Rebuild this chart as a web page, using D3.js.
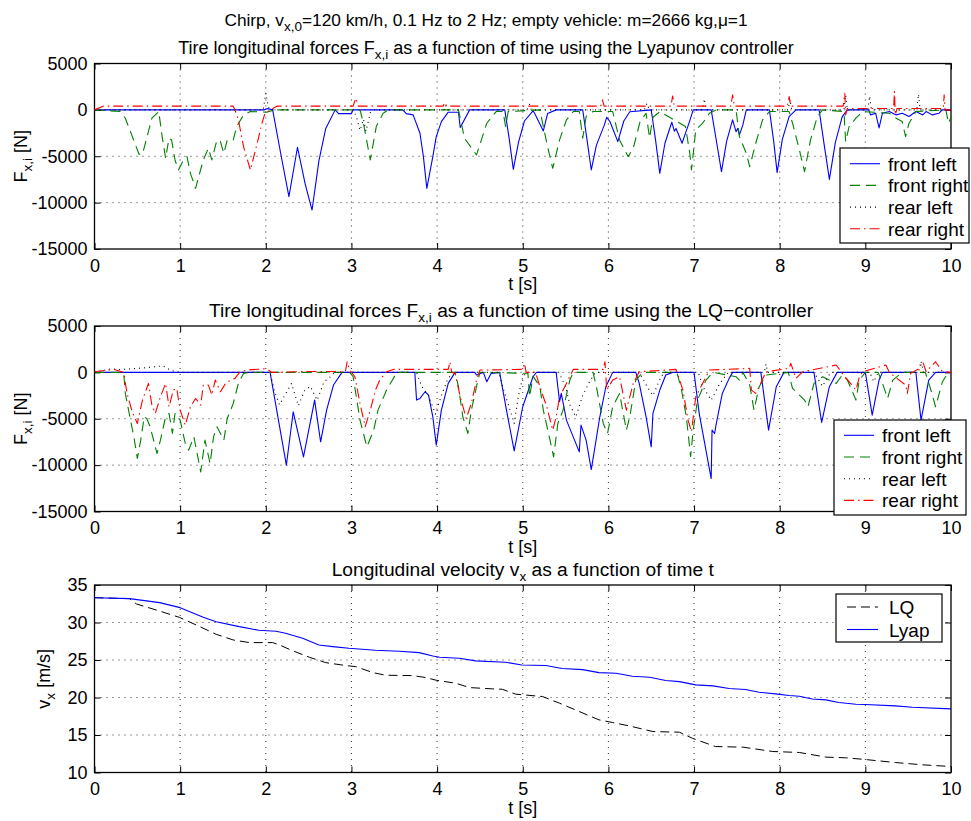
<!DOCTYPE html>
<html>
<head>
<meta charset="utf-8">
<script src="https://cdn.jsdelivr.net/npm/d3@7"></script>
<style>
  body { margin: 0; background: #fff; }
  svg text { font-family: "Liberation Sans", Arial, Helvetica, sans-serif; fill: #000; }
</style>
</head>
<body>
<svg id="chart" width="971" height="821"></svg>
<script>
/*******************
 * DATA
 *******************/

var tTicks = [0, 1, 2, 3, 4, 5, 6, 7, 8, 9, 10];
var forceTicks = [-15000, -10000, -5000, 0, 5000];
var velTicks = [10, 15, 20, 25, 30, 35];
var wheelNames = ["front left", "front right", "rear left", "rear right"];
var controllerNames = ["LQ", "Lyap"];

// tire forces [t (s), Fx (N)] - Lyapunov controller
var lyapFrontLeft = [[0,0],[1.98,0],[2.02,150],[2.08,0],[2.18,-5000],[2.27,-9360],[2.37,-4030],[2.46,-8000],[2.54,-10800],[2.62,-5500],[2.70,-2000],[2.81,0],[2.85,-400],[3.0,-400],[3.02,0],[3.6,0],[3.64,-400],[3.72,-540],[3.80,-2520],[3.84,-5040],[3.88,-8460],[3.95,-5040],[3.99,-2880],[4.05,-1260],[4.13,-250],[4.25,-250],[4.27,-1900],[4.38,0],[4.79,0],[4.84,-3000],[4.89,-6410],[4.95,-3500],[5.02,-1200],[5.12,-100],[5.14,-400],[5.24,-2270],[5.29,-400],[5.39,0],[5.70,0],[5.75,-3200],[5.80,-6480],[5.86,-3800],[5.95,-1700],[5.98,-800],[6.02,-1300],[6.11,-3420],[6.18,-1200],[6.25,-200],[6.50,0],[6.55,-3200],[6.60,-6840],[6.66,-3600],[6.74,-1330],[6.77,-2300],[6.79,-2000],[6.86,-3600],[6.90,-2500],[6.94,-1450],[6.99,0],[7.20,0],[7.26,-3300],[7.32,-6660],[7.38,-3400],[7.45,-1080],[7.49,-2350],[7.51,-2000],[7.53,-2700],[7.57,-1620],[7.61,0],[7.88,0],[7.93,-3400],[7.97,-6770],[8.03,-3200],[8.11,-720],[8.13,-540],[8.19,0],[8.46,0],[8.52,-3800],[8.58,-7490],[8.65,-3500],[8.73,-720],[8.79,0],[9.04,0],[9.06,-540],[9.12,-360],[9.16,-1940],[9.20,-360],[9.28,-180],[9.36,-540],[9.43,-360],[9.51,-720],[9.59,-180],[9.67,-540],[9.71,-180],[9.78,-540],[9.86,-360],[9.90,0],[10,0]];
var lyapFrontRight = [[0,0],[0.30,-180],[0.36,-900],[0.52,-4790],[0.56,-4790],[0.67,-900],[0.75,-180],[0.79,-2880],[0.83,-5220],[0.87,-3060],[0.90,-3240],[0.94,-5400],[0.98,-6480],[1.04,-5400],[1.08,-5040],[1.12,-6840],[1.18,-8460],[1.27,-5400],[1.33,-4140],[1.37,-5400],[1.43,-3240],[1.47,-3420],[1.51,-4680],[1.55,-3240],[1.62,-3240],[1.66,-1800],[1.74,-540],[1.82,-180],[2.01,-250],[2.1,0],[3.10,0],[3.14,-1440],[3.22,-5400],[3.29,-1800],[3.37,-360],[3.43,0],[4.25,0],[4.32,-3060],[4.46,-4860],[4.58,-1440],[4.69,-180],[4.77,-180],[4.80,-1800],[4.83,-180],[5.20,0],[5.24,-1800],[5.29,-3960],[5.35,-6300],[5.43,-3240],[5.51,-1080],[5.59,-180],[5.66,-180],[5.70,-3060],[5.74,-700],[5.82,-180],[6.05,-180],[6.13,-3240],[6.23,-5040],[6.29,-4140],[6.37,-1260],[6.44,-360],[6.48,-3000],[6.52,-800],[6.60,-200],[6.90,-1800],[6.95,-4680],[6.97,-6480],[7.02,-2160],[7.10,-1440],[7.18,-360],[7.26,0],[7.49,0],[7.53,-2880],[7.61,-4680],[7.65,-6120],[7.72,-3600],[7.80,-1080],[7.88,-180],[8.11,-180],[8.15,-1440],[8.23,-4320],[8.29,-6660],[8.36,-3240],[8.44,-720],[8.50,0],[8.75,-180],[8.77,-3420],[8.81,-1800],[8.89,-900],[8.97,-180],[9.28,-360],[9.36,-900],[9.43,-1260],[9.47,-2880],[9.51,-1440],[9.59,-180],[9.94,0],[9.97,-1440],[10,-800]];
var lyapRearLeft = [[0,0],[1.97,0],[2.0,1800],[2.03,300],[2.06,0],[3.02,0],[3.06,-800],[3.10,-2200],[3.14,-1000],[3.17,-2300],[3.22,-300],[3.27,0],[4.08,0],[4.10,500],[4.12,0],[5.05,0],[5.08,600],[5.10,0],[6.42,0],[6.45,700],[6.48,0],[7.10,0],[7.12,1200],[7.14,0],[8.10,0],[8.12,1100],[8.14,0],[8.75,0],[8.77,1600],[8.79,0],[9.03,0],[9.05,1500],[9.07,0],[9.60,0],[9.62,1700],[9.64,0],[10,0]];
var lyapRearRight = [[0,0],[0.1,400],[1.62,400],[1.64,0],[1.68,-1080],[1.74,-3960],[1.82,-6480],[1.90,-3600],[1.95,-1620],[1.99,-360],[2.05,0],[2.13,400],[3.02,400],[3.05,1260],[3.08,400],[4.07,400],[4.09,800],[4.11,400],[5.91,400],[5.93,1080],[5.95,400],[6.73,400],[6.75,1500],[6.77,400],[7.43,400],[7.45,1620],[7.47,400],[8.09,400],[8.11,1440],[8.13,400],[8.74,400],[8.76,1800],[8.77,-540],[8.79,150],[9.33,150],[9.34,1980],[9.35,-540],[9.37,150],[9.91,150],[9.92,1620],[9.93,0],[10,0]];

// tire forces [t (s), Fx (N)] - LQ controller
var lqFrontLeft = [[0,0],[2.05,0],[2.24,-10008],[2.32,-4248],[2.44,-9108],[2.57,-2988],[2.64,-7488],[2.71,-4068],[2.79,-1368],[2.89,0],[3.74,0],[3.76,-2988],[3.80,-2808],[3.86,-2088],[3.90,-2448],[3.95,-4788],[3.99,-7848],[4.05,-4068],[4.13,-1188],[4.21,0],[4.44,0],[4.46,-288],[4.54,0],[4.58,-1008],[4.63,-108],[4.73,0],[4.81,-4068],[4.90,-8460],[5.00,-3708],[5.12,-468],[5.16,0],[5.39,0],[5.43,-3168],[5.45,-2268],[5.51,-5148],[5.66,-8568],[5.68,-5688],[5.74,-7308],[5.80,-10476],[5.90,-4788],[5.97,-1548],[6.05,0],[6.32,0],[6.36,-1188],[6.44,-4788],[6.50,-8028],[6.52,-4428],[6.60,-1908],[6.67,-288],[6.75,0],[7.00,0],[7.06,-4428],[7.20,-11448],[7.21,-6228],[7.24,-6588],[7.26,-5508],[7.33,-2268],[7.41,-648],[7.45,0],[7.78,0],[7.87,-6228],[7.96,-1548],[8.05,0],[8.40,0],[8.49,-5400],[8.58,-1548],[8.67,0],[9.00,0],[9.08,-4608],[9.16,-828],[9.20,0],[9.59,0],[9.65,-5148],[9.74,-828],[9.82,0],[10,0]];
var lqFrontRight = [[0,0],[0.34,0],[0.36,-2268],[0.42,-5148],[0.46,-6948],[0.50,-9288],[0.54,-7308],[0.58,-4788],[0.61,-4968],[0.65,-5868],[0.73,-8748],[0.77,-7308],[0.83,-4788],[0.87,-4428],[0.91,-6588],[0.94,-4428],[1.00,-5148],[1.06,-7668],[1.10,-8388],[1.16,-6948],[1.24,-10728],[1.29,-7308],[1.35,-9828],[1.39,-6948],[1.43,-5868],[1.51,-7308],[1.55,-4968],[1.62,-3348],[1.68,-1188],[1.74,-108],[1.80,0],[2.98,0],[3.02,-468],[3.10,-5148],[3.18,-8028],[3.26,-6228],[3.31,-4068],[3.41,-1908],[3.53,0],[4.21,0],[4.25,-1548],[4.30,-4788],[4.36,-6588],[4.40,-4068],[4.46,-1548],[4.50,0],[5.06,-100],[5.08,-2628],[5.12,-400],[5.20,-1548],[5.24,-4068],[5.31,-6948],[5.36,-9108],[5.41,-5508],[5.47,-4068],[5.55,-828],[5.59,0],[5.82,0],[5.86,-1548],[5.94,-5508],[5.99,-6588],[6.05,-3708],[6.13,-2268],[6.21,-6228],[6.25,-4788],[6.32,-828],[6.40,0],[6.80,0],[6.85,-1728],[6.91,-4788],[6.96,-9100],[6.99,-6228],[7.04,-2988],[7.14,-828],[7.22,0],[7.49,-468],[7.53,-828],[7.57,0],[7.65,-1368],[7.70,-4068],[7.76,-1548],[7.84,-288],[8.10,0],[8.15,-1728],[8.29,-2988],[8.33,-3708],[8.40,-1188],[8.50,-468],[8.66,-1188],[8.73,-288],[8.79,-828],[8.89,-2988],[8.93,-828],[9.00,0],[9.15,0],[9.20,-1188],[9.26,-2808],[9.32,-828],[9.43,0],[9.70,0],[9.76,-1728],[9.82,-3708],[9.90,-1008],[9.96,-108],[10,0]];
var lqRearLeft = [[0,0],[0.2,400],[0.3,300],[0.6,500],[0.8,700],[0.9,200],[1.0,0],[2.05,0],[2.10,-2000],[2.16,-3500],[2.22,-2500],[2.30,-1200],[2.38,-3600],[2.45,-2000],[2.52,-1500],[2.60,-3000],[2.68,-1000],[2.75,-500],[2.80,0],[3.76,0],[3.82,-1500],[3.90,-2500],[3.98,-4500],[4.05,-2500],[4.12,-800],[4.18,0],[4.72,0],[4.78,-2000],[4.85,-4000],[4.90,-5500],[4.95,-2500],[5.00,-500],[5.05,0],[5.42,0],[5.50,-1500],[5.55,-3500],[5.62,-4800],[5.70,-2500],[5.78,-1000],[5.85,0],[6.36,0],[6.45,-1500],[6.52,-2500],[6.60,-800],[6.65,0],[7.05,0],[7.10,-1500],[7.20,-3000],[7.30,-1200],[7.40,0],[7.82,0],[7.84,900],[7.86,0],[8.40,0],[8.50,-1500],[8.56,-500],[8.60,0],[9.05,0],[9.10,-1000],[9.15,0],[9.62,0],[9.65,1200],[9.68,0],[10,0]];
var lqRearRight = [[0,70],[0.23,320],[0.34,0],[0.38,-2268],[0.44,-4248],[0.50,-5508],[0.56,-2988],[0.63,-1188],[0.67,-3528],[0.71,-4428],[0.77,-2628],[0.83,-1188],[0.87,-3708],[0.92,-1908],[0.96,-1728],[1.00,-4068],[1.06,-5688],[1.12,-3708],[1.18,-2808],[1.24,-3528],[1.27,-1368],[1.33,-1368],[1.37,-2448],[1.41,-828],[1.47,-2088],[1.53,-1188],[1.59,-828],[1.64,-648],[1.70,70],[1.78,250],[2.01,400],[2.07,0],[2.50,100],[2.93,100],[2.95,1150],[2.98,250],[3.04,-468],[3.10,-3348],[3.16,-5868],[3.22,-4068],[3.28,-1908],[3.33,-828],[3.41,70],[3.49,320],[4.13,320],[4.15,1150],[4.17,0],[4.21,-100],[4.27,-2628],[4.34,-4968],[4.40,-3348],[4.46,-828],[4.50,250],[5.00,320],[5.02,970],[5.04,0],[5.15,0],[5.20,-1548],[5.28,-3708],[5.35,-6228],[5.39,-4788],[5.43,-2628],[5.51,-1188],[5.59,320],[5.94,320],[5.96,1150],[5.98,-1908],[6.05,-828],[6.13,-468],[6.21,-4068],[6.29,-1188],[6.36,70],[6.79,320],[6.87,-1908],[6.93,-5148],[6.97,-6400],[7.02,-2628],[7.10,-1188],[7.18,250],[7.65,430],[7.67,-1908],[7.72,-2268],[7.76,-1548],[7.84,70],[8.11,430],[8.13,970],[8.19,-648],[8.27,70],[8.66,790],[8.73,-108],[8.89,-1908],[8.93,-468],[8.97,70],[9.24,790],[9.28,0],[9.47,-1368],[9.49,-2268],[9.53,-108],[9.63,430],[9.67,1150],[9.71,70],[9.82,1150],[9.90,70],[10,0]];

// longitudinal velocity [t (s), vx (m/s)]
var lqVelocity = [[0,33.31],[0.41,33.18],[0.49,32.47],[0.72,31.67],[0.99,30.69],[1.23,29.45],[1.42,28.43],[1.62,27.67],[1.81,27.32],[2.08,27.32],[2.16,27.0],[2.31,26.25],[2.51,25.36],[2.70,24.65],[2.94,24.25],[3.05,24.12],[3.25,23.32],[3.40,22.97],[3.71,22.92],[3.87,22.66],[3.99,22.30],[4.22,21.9],[4.38,21.32],[4.65,21.15],[4.76,21.1],[4.92,20.44],[5.23,20.13],[5.43,19.24],[5.66,18.13],[5.89,17.02],[6.05,16.66],[6.24,16.22],[6.52,15.46],[6.83,15.37],[6.98,14.57],[7.25,13.46],[7.57,13.38],[7.92,12.80],[8.23,12.67],[8.54,12.05],[8.77,11.96],[9.0,11.73],[9.35,11.33],[9.67,11.02],[10,10.8]];
var lyapVelocity = [[0,33.31],[0.41,33.18],[0.76,32.65],[1.0,31.98],[1.27,30.69],[1.42,30.1],[1.69,29.45],[1.92,28.96],[2.12,28.83],[2.23,28.56],[2.43,27.9],[2.62,27.0],[2.78,26.78],[2.97,26.56],[3.28,26.29],[3.56,26.16],[3.79,25.98],[3.95,25.54],[4.03,25.36],[4.26,25.23],[4.45,24.88],[4.80,24.70],[4.99,24.34],[5.27,24.26],[5.46,23.86],[5.70,23.72],[5.89,23.32],[6.09,23.23],[6.28,22.83],[6.48,22.7],[6.67,22.26],[6.83,22.12],[7.02,21.68],[7.22,21.55],[7.41,21.19],[7.60,21.06],[7.76,20.70],[7.95,20.48],[8.11,20.26],[8.23,20.17],[8.38,19.81],[8.54,19.68],[8.69,19.33],[8.89,19.1],[9.0,19.06],[9.35,18.88],[9.55,18.7],[10,18.48]];

/*******************
 * STYLE / LAYOUT
 *******************/

var FONT = '"Liberation Sans", Arial, Helvetica, sans-serif';
var X0 = 94.5, X1 = 951;

var WHEEL_STYLE = [
  {color: "#0000ff", dash: null},
  {color: "#008000", dash: "10,6"},
  {color: "#000000", dash: "1,4"},
  {color: "#ff0000", dash: "10,4,1.5,4"}
];

var svg = d3.select("#chart");

/*******************
 * HELPERS
 *******************/

// text with tex-like subscripts: parts are strings or [subscript]
function texText(parent, parts, attrs) {
  var t = parent.append("text");
  for (var k in attrs) t.attr(k, attrs[k]);
  var shift = 0;
  parts.forEach(function (p) {
    var isSub = Array.isArray(p);
    var s = t.append("tspan").text(isSub ? p[0] : p);
    var target = isSub ? 5 : 0;
    if (target !== shift) s.attr("dy", target - shift);
    if (isSub) s.attr("font-size", "13.5px");
    shift = target;
  });
  return t;
}

function makePanel(top, bottom, yDomain, yTicks) {
  var x = d3.scaleLinear().domain([0, 10]).range([X0, X1]);
  var y = d3.scaleLinear().domain(yDomain).range([bottom, top]);
  var g = svg.append("g");

  // dotted grid
  var grid = g.append("g").attr("stroke", "#000").attr("stroke-width", 1)
    .attr("stroke-dasharray", "1,5").attr("opacity", 0.8);
  grid.selectAll("line.v").data(tTicks.slice(1, -1)).enter().append("line")
    .attr("x1", x).attr("x2", x).attr("y1", top).attr("y2", bottom);
  grid.selectAll("line.h").data(yTicks.slice(1, -1)).enter().append("line")
    .attr("y1", y).attr("y2", y).attr("x1", X0).attr("x2", X1);

  var fmt = function (d) { return String(d); };
  var style = function (a) {
    a.select(".domain").remove();
    a.attr("font-family", FONT).attr("font-size", 18);
    a.selectAll(".tick line").attr("stroke-width", 1);
  };

  g.append("g").attr("transform", "translate(0," + bottom + ")")
    .call(d3.axisBottom(x).tickValues(tTicks).tickSize(-6).tickPadding(10).tickFormat(fmt))
    .call(style);
  g.append("g").attr("transform", "translate(0," + top + ")")
    .call(d3.axisTop(x).tickValues(tTicks).tickSize(-6).tickFormat(""))
    .call(style);
  g.append("g").attr("transform", "translate(" + X0 + ",0)")
    .call(d3.axisLeft(y).tickValues(yTicks).tickSize(-6).tickPadding(7).tickFormat(fmt))
    .call(style);
  g.append("g").attr("transform", "translate(" + X1 + ",0)")
    .call(d3.axisRight(y).tickValues(yTicks).tickSize(-6).tickFormat(""))
    .call(style);

  g.append("rect").attr("x", X0).attr("y", top).attr("width", X1 - X0).attr("height", bottom - top)
    .attr("fill", "none").attr("stroke", "#000").attr("stroke-width", 1.3);

  g.append("text").attr("x", (X0 + X1) / 2).attr("y", bottom + 41)
    .attr("text-anchor", "middle").attr("font-size", 18).text("t [s]");

  return {x: x, y: y, g: g};
}

function drawSeries(p, data, st, width) {
  var line = d3.line().x(function (d) { return p.x(d[0]); }).y(function (d) { return p.y(d[1]); });
  p.g.append("path").datum(data).attr("d", line)
    .attr("fill", "none").attr("stroke", st.color).attr("stroke-width", width || 1.1)
    .attr("stroke-dasharray", st.dash).attr("stroke-linejoin", "round");
}

function drawLegend(box, names, styles, lineX0, lineX1, textX, baseline0, step) {
  var g = svg.append("g");
  g.append("rect").attr("x", box[0]).attr("y", box[1]).attr("width", box[2]).attr("height", box[3])
    .attr("fill", "#fff").attr("stroke", "#000").attr("stroke-width", 1.2);
  names.forEach(function (name, i) {
    var b = baseline0 + i * step;
    g.append("line").attr("x1", lineX0).attr("x2", lineX1).attr("y1", b - 7).attr("y2", b - 7)
      .attr("stroke", styles[i].color).attr("stroke-width", 1.1).attr("stroke-dasharray", styles[i].dash);
    g.append("text").attr("x", textX).attr("y", b).attr("font-size", 19).text(name);
  });
}

function forcePanel(top, bottom, title, titleX, titleSize, series, legendBox, legendLine, legendText, legendBase) {
  var p = makePanel(top, bottom, [-15000, 5000], forceTicks);
  series.forEach(function (s, i) { drawSeries(p, s, WHEEL_STYLE[i]); });
  texText(svg, title, {x: titleX, y: top - 9.5, "text-anchor": "middle", "font-size": titleSize});
  texText(svg, ["F", ["x,i"], " [N]"], {
    transform: "translate(27," + ((top + bottom) / 2) + ") rotate(-90)",
    "text-anchor": "middle", "font-size": 18
  });
  drawLegend(legendBox, wheelNames, WHEEL_STYLE, legendLine[0], legendLine[1], legendText, legendBase, 21.7);
}

/*******************
 * RENDER
 *******************/

texText(svg, ["Chirp, v", ["x,0"], "=120 km/h, 0.1 Hz to 2 Hz; empty vehicle: m=2666 kg,\u03bc=1"],
  {x: 486, y: 26, "text-anchor": "middle", "font-size": 17.3});

forcePanel(63.5, 249,
  ["Tire longitudinal forces F", ["x,i"], " as a function of time using the Lyapunov controller"], 486, 18,
  [lyapFrontLeft, lyapFrontRight, lyapRearLeft, lyapRearRight],
  [840, 148, 129, 95], [850, 880], 888, 170.7);

forcePanel(326, 511.5,
  ["Tire longitudinal forces F", ["x,i"], " as a function of time using the LQ\u2212controller"], 511, 19.2,
  [lqFrontLeft, lqFrontRight, lqRearLeft, lqRearRight],
  [834, 420, 132, 95], [844, 874], 882, 442.3);

// velocity panel
var pv = makePanel(585, 772.5, [10, 35], velTicks);
var VEL_STYLE = [{color: "#000", dash: "9,5"}, {color: "#0000ff", dash: null}];
drawSeries(pv, lqVelocity, VEL_STYLE[0], 1);
drawSeries(pv, lyapVelocity, VEL_STYLE[1], 1.1);
texText(svg, ["Longitudinal velocity v", ["x"], " as a function of time t"],
  {x: (X0 + X1) / 2, y: 575.5, "text-anchor": "middle", "font-size": 19.2});
texText(svg, ["v", ["x"], " [m/s]"], {
  transform: "translate(50," + ((585 + 772.5) / 2) + ") rotate(-90)",
  "text-anchor": "middle", "font-size": 18
});
drawLegend([836, 594, 106, 48], controllerNames, VEL_STYLE, 847, 878, 889, 614, 22.5);
</script>
</body>
</html>
